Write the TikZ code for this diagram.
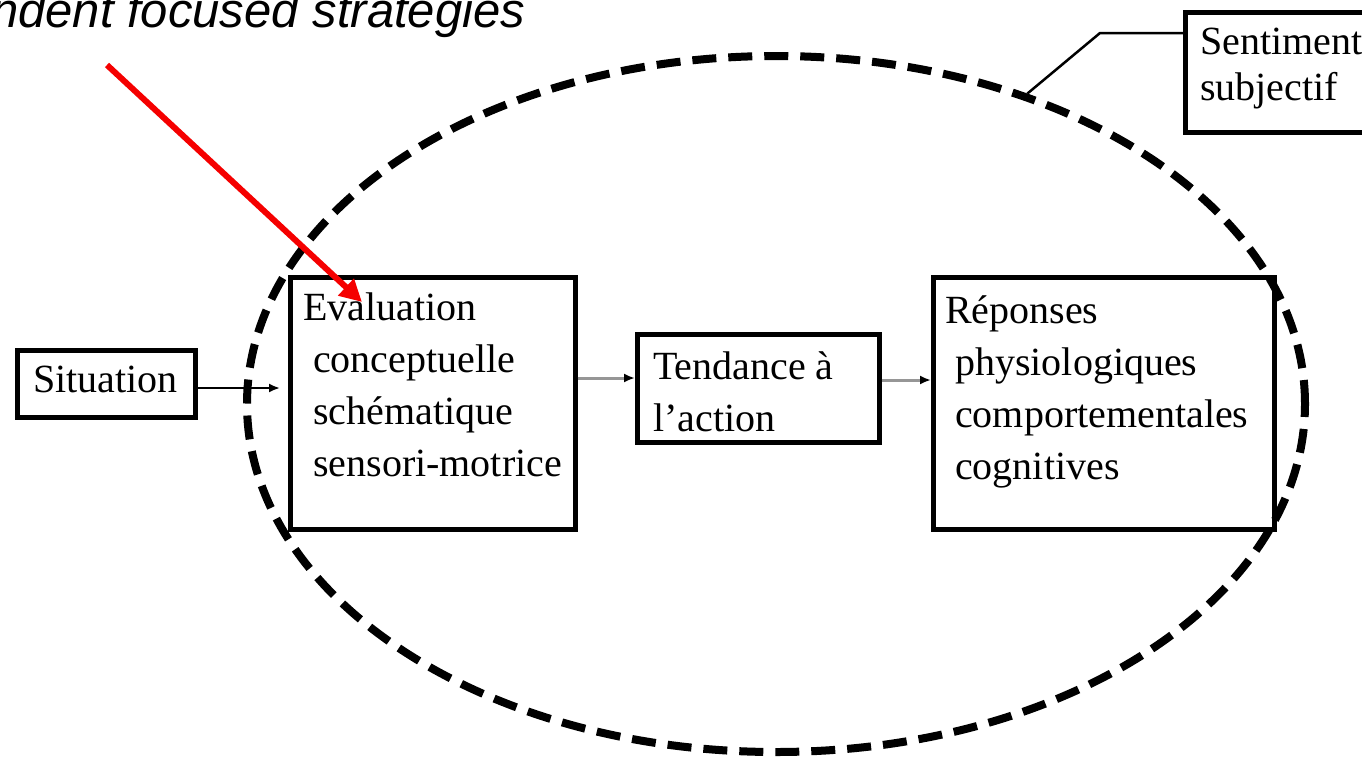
\documentclass[tikz,border=0pt]{standalone}
\usepackage{fontspec}
\setmainfont{Liberation Serif}
\setsansfont{Liberation Sans}
\usetikzlibrary{arrows.meta,shapes.geometric}
\definecolor{arrgray}{RGB}{150,150,150}
\definecolor{redarrow}{RGB}{245,0,0}
\begin{document}
\begin{tikzpicture}[x=1pt,y=-1pt,
  box/.style={draw=black, line width=4.5pt, inner sep=0pt, anchor=north west},
  txt/.style={inner sep=0pt, anchor=north west, align=left, font=\fontsize{40}{52}\selectfont},
  garr/.style={draw=arrgray, line width=3pt, -{Latex[length=11pt,width=9pt,color=black]}},
  barr/.style={draw=black, line width=2pt, -{Latex[length=11pt,width=9pt]}},
  redarr/.style={draw=redarrow, line width=6pt, -{Triangle[length=22pt,width=22pt]}},
  link/.style={draw=black, line width=2.5pt},
  dashell/.style={draw=black, line width=8pt, dash pattern=on 24pt off 12pt, ellipse, inner sep=0pt}
]
\clip (0,0) rectangle (1362,758);
\fill[white] (0,0) rectangle (1362,758);

% title fragment
\node[anchor=base west, inner sep=0pt, font=\sffamily\itshape\fontsize{49}{52}\selectfont] (title) at (-9,27) {ndent focused strategies};

% dashed ellipse
\node[dashell, minimum width=1058pt, minimum height=696pt] (ell) at (776,404) {};

% boxes
\node[box, minimum width=178pt, minimum height=67pt] (sit) at (15,348) {};
\node[box, minimum width=285pt, minimum height=252pt] (eval) at (288,275) {};
\node[box, minimum width=242pt, minimum height=108pt] (tend) at (635,332) {};
\node[box, minimum width=341pt, minimum height=252pt] (rep) at (931,275) {};
\node[box, minimum width=240pt, minimum height=120pt] (sent) at (1183,10) {};

% texts
\node[txt] (sittxt) at (33,366) {Situation};
\node[txt] (evaltxt) at (303,293) {Evaluation\\\hspace*{10pt}conceptuelle\\\hspace*{10pt}schématique\\\hspace*{10pt}sensori-motrice};
\node[txt] (tendtxt) at (653,351) {Tendance à\\l’action};
\node[txt] (reptxt) at (945,295) {Réponses\\\hspace*{10pt}physiologiques\\\hspace*{10pt}comportementales\\\hspace*{10pt}cognitives};
\node[txt, font=\fontsize{40}{46}\selectfont] (senttxt) at (1200,28) {Sentiment\\subjectif};

% connectors
\coordinate (y1) at (0,388);
\coordinate (y2) at (0,378);
\coordinate (y3) at (0,380);
\draw[barr] (sit.east |- y1) -- ([xshift=-8pt]eval.west |- y1);
\draw[garr] (eval.east |- y2) -- (tend.west |- y2);
\draw[garr] (tend.east |- y3) -- (rep.west |- y3);

\coordinate (bend) at (1100,33);
\draw[link] (sent.west |- bend) -- (bend) -- (ell.51);

% red arrow
\coordinate (redstart) at (107,65);
\coordinate (redend) at (362,302);
\draw[redarr] (redstart) -- (redend);
\end{tikzpicture}
\end{document}
